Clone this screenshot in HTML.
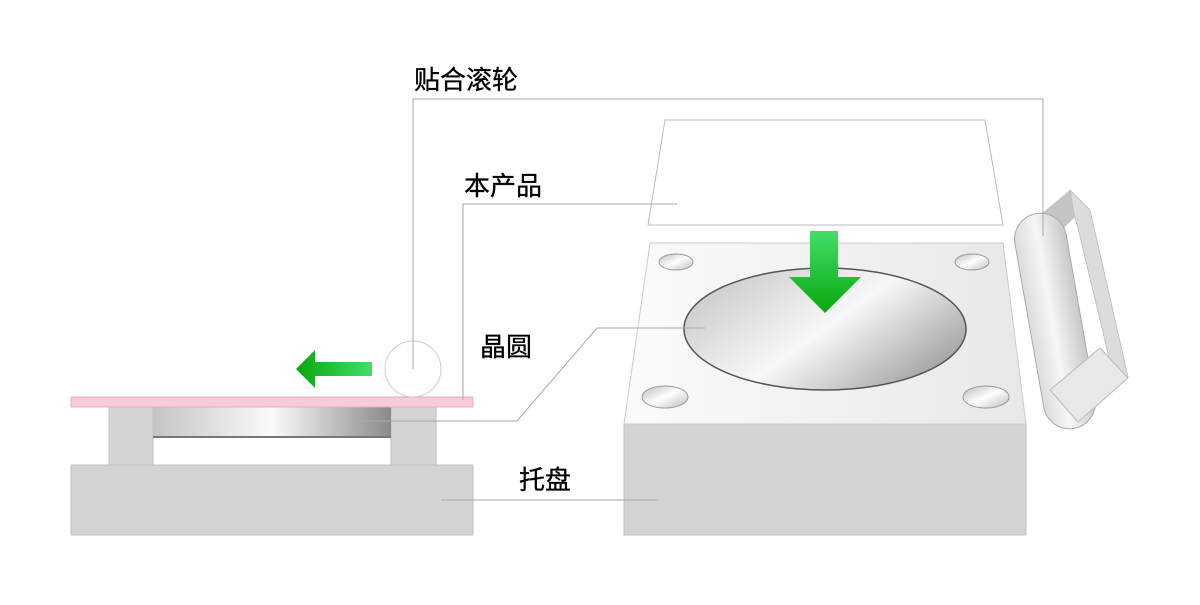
<!DOCTYPE html>
<html><head><meta charset="utf-8"><style>
html,body{margin:0;padding:0;background:#fff;}
text{font-family:"Liberation Sans","Noto Sans CJK SC",sans-serif;font-size:26px;fill:#000;stroke:#000;stroke-width:0.3;}
</style></head><body>
<svg width="1200" height="600" viewBox="0 0 1200 600" xmlns="http://www.w3.org/2000/svg">
<defs>
<linearGradient id="metal" x1="0" x2="1" y1="0" y2="0">
<stop offset="0" stop-color="#c4c4c4"/><stop offset="0.5" stop-color="#fafafa"/><stop offset="1" stop-color="#8a8a8a"/></linearGradient>
<linearGradient id="disc" x1="0" y1="0.2" x2="1" y2="0.8">
<stop offset="0" stop-color="#c8c8c8"/><stop offset="0.5" stop-color="#f8f8f8"/><stop offset="1" stop-color="#999"/></linearGradient>
<linearGradient id="hole" x1="0" y1="0" x2="1" y2="1">
<stop offset="0" stop-color="#bbb"/><stop offset="0.5" stop-color="#fff"/><stop offset="1" stop-color="#bbb"/></linearGradient>
<linearGradient id="top" x1="0" x2="1"><stop offset="0" stop-color="#fbfbfb"/><stop offset="1" stop-color="#e8e8e8"/></linearGradient>
<linearGradient id="ga" x1="0" x2="1"><stop offset="0" stop-color="#07a80f"/><stop offset="1" stop-color="#45dd6a"/></linearGradient>
<linearGradient id="gd" x1="0" y1="1" x2="0" y2="0"><stop offset="0" stop-color="#07a80f"/><stop offset="1" stop-color="#45dd6a"/></linearGradient>
<linearGradient id="cyl" x1="0" x2="1"><stop offset="0" stop-color="#dcdcdc"/><stop offset="0.45" stop-color="#f6f6f6"/><stop offset="1" stop-color="#c8c8c8"/></linearGradient>
</defs>

<rect x="71" y="465" width="402" height="70" fill="#d4d4d4" stroke="#c0c0c0"/>
<rect x="109" y="407" width="44" height="58" fill="#d4d4d4" stroke="#c0c0c0"/>
<rect x="391" y="407" width="45" height="58" fill="#d4d4d4" stroke="#c0c0c0"/>
<rect x="153" y="407" width="238" height="30" fill="url(#metal)"/>
<line x1="153" y1="437" x2="391" y2="437" stroke="#777" stroke-width="2"/>
<rect x="71" y="397" width="402" height="10" fill="#f7cbdc" stroke="#e0b0c4"/>
<circle cx="413" cy="369" r="28" fill="none" stroke="#ccc"/>
<polygon points="296,369 315,350 315,362 372,362 372,376 315,376 315,388" fill="url(#ga)"/>

<polygon points="665,120 985,120 1003,225 648,225" fill="#fff" stroke="#bbb"/>
<rect x="624" y="424" width="402" height="111" fill="#d4d4d4" stroke="#c0c0c0"/>
<polygon points="650,243 1003,243 1026,424 624,424" fill="url(#top)" stroke="#ccc"/>
<ellipse cx="825" cy="329" rx="141" ry="61" fill="url(#disc)" stroke="#555" stroke-width="1.5"/>
<ellipse cx="676" cy="262" rx="17" ry="8" fill="url(#hole)" stroke="#999"/>
<ellipse cx="972" cy="262" rx="17" ry="8" fill="url(#hole)" stroke="#999"/>
<ellipse cx="665" cy="397" rx="23" ry="11" fill="url(#hole)" stroke="#999"/>
<ellipse cx="986" cy="397" rx="23" ry="11" fill="url(#hole)" stroke="#999"/>
<polygon points="810,231 838,231 838,277 861,277 825,313 789,277 810,277" fill="url(#gd)"/>

<polygon points="1040,215 1070,190 1076,216 1060,232" fill="#c4c4c4"/>
<polygon points="1070,190 1090,210 1128,377 1112,370 1078,228 1074,214" fill="#dcdcdc" stroke="#bbb" stroke-width="0.8"/>
<rect x="1029" y="212" width="52" height="218" rx="26" fill="url(#cyl)" stroke="#aaa" transform="rotate(-10 1055 321)"/>
<polygon points="1050,390 1100,348 1128,378 1078,422" fill="#e8e8e8" stroke="#bbb"/>

<g fill="none" stroke="#aaa" stroke-width="1">
<polyline points="413,369 413,99 1043,99 1043,236"/>
<polyline points="463,400 463,204 677,204"/>
<polyline points="355,421 517,421 597,328 705,328"/>
<line x1="441" y1="500" x2="658" y2="500"/>
</g>

<text x="414" y="89">贴合滚轮</text>
<text x="464" y="195">本产品</text>
<text x="480" y="356">晶圆</text>
<text x="519" y="489">托盘</text>
</svg>
</body></html>
